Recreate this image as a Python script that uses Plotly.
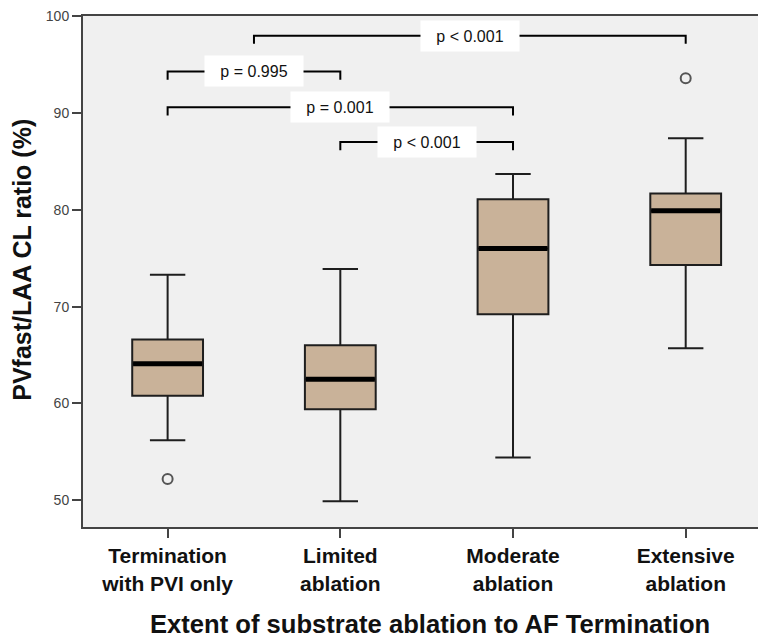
import plotly.graph_objects as go

# ---- data ----
categories = ["Termination<br>with PVI only", "Limited<br>ablation", "Moderate<br>ablation", "Extensive<br>ablation"]
lower_whisker = [56.2, 49.9, 54.4, 65.7]
q1 = [60.8, 59.4, 69.2, 74.3]
median = [64.1, 62.5, 76.0, 79.9]
q3 = [66.6, 66.0, 81.1, 81.7]
upper_whisker = [73.3, 73.9, 83.7, 87.4]
outlier_x = [0, 3]
outlier_y = [52.2, 93.6]

comp_left = [0.5, 0, 0, 1]
comp_right = [3, 1, 2, 2]
comp_y = [98.0, 94.3, 90.6, 87.0]
comp_text = ["p < 0.001", "p = 0.995", "p = 0.001", "p < 0.001"]

y_ticks = [50, 60, 70, 80, 90, 100]

# ---- style ----
FONT = "Liberation Sans, Arial, sans-serif"
BOX_W = 0.41
DROP = 0.85
FILL = "#c9b299"

fig = go.Figure()

for i in range(len(categories)):
    fig.add_trace(go.Box(
        x=[i], q1=[q1[i]], median=[median[i]], q3=[q3[i]],
        lowerfence=[lower_whisker[i]], upperfence=[upper_whisker[i]],
        width=BOX_W, whiskerwidth=0.5, boxpoints=False,
        fillcolor=FILL, line=dict(color="#1e1e1e", width=2),
        showlegend=False, hoverinfo="skip",
    ))
    # thick median line
    fig.add_trace(go.Scatter(
        x=[i - BOX_W / 2 + 0.005, i + BOX_W / 2 - 0.005], y=[median[i], median[i]],
        mode="lines", line=dict(color="black", width=5),
        showlegend=False, hoverinfo="skip",
    ))

fig.add_trace(go.Scatter(
    x=outlier_x, y=outlier_y, mode="markers",
    marker=dict(symbol="circle-open", size=10, color="#555555", line=dict(width=2, color="#555555")),
    showlegend=False, hoverinfo="skip",
))

# brackets
for xl, xr, yv, txt in zip(comp_left, comp_right, comp_y, comp_text):
    fig.add_trace(go.Scatter(
        x=[xl, xl, xr, xr], y=[yv - DROP, yv, yv, yv - DROP],
        mode="lines", line=dict(color="black", width=2),
        showlegend=False, hoverinfo="skip",
    ))
    fig.add_annotation(
        x=(xl + xr) / 2, y=yv, text=txt, showarrow=False,
        bgcolor="white", width=90, height=22, borderpad=4,
        font=dict(family=FONT, size=16, color="#111111"),
        xanchor="center", yanchor="middle",
    )

fig.add_annotation(
    x=-0.0893, y=0.523, xref="paper", yref="paper",
    text="<b>PVfast/LAA CL ratio (%)</b>", textangle=-90, showarrow=False,
    font=dict(family=FONT, size=25, color="#111111"),
    xanchor="center", yanchor="middle",
)
fig.add_annotation(
    x=0.508, y=-0.1907, xref="paper", yref="paper",
    text="<b>Extent of substrate ablation to AF Termination</b>", showarrow=False,
    font=dict(family=FONT, size=25.6, color="#111111"),
    xanchor="center", yanchor="middle",
)

# the page body adds an 8px margin, so the figure is 8px smaller and the margins shift by 8px
fig.update_layout(
    width=758, height=631,
    margin=dict(l=75, r=0, t=8, b=112, autoexpand=False),
    paper_bgcolor="white", plot_bgcolor="#f0f0f0",
    font=dict(family=FONT),
    showlegend=False,
)
fig.update_xaxes(
    range=[-0.49, 3.465], tickvals=list(range(len(categories))),
    ticktext=["<b>" + c.replace("<br>", "</b><br><b>") + "</b>" for c in categories],
    tickfont=dict(family=FONT, size=21, color="#111111"),
    ticks="outside", ticklen=9, tickwidth=2, tickcolor="#444444",
    showline=True, linecolor="#444444", linewidth=2, mirror=True,
    showgrid=False, zeroline=False, automargin=False,
)
fig.update_yaxes(
    range=[47.23, 100.03], tickvals=y_ticks,
    tickfont=dict(family=FONT, size=14, color="#444444"),
    ticks="outside", ticklen=9, tickwidth=2, tickcolor="#444444",
    showline=True, linecolor="#444444", linewidth=2, mirror=False,
    showgrid=False, zeroline=False, ticklabeloverflow="allow", automargin=False,
)

fig.write_html("out.html")
